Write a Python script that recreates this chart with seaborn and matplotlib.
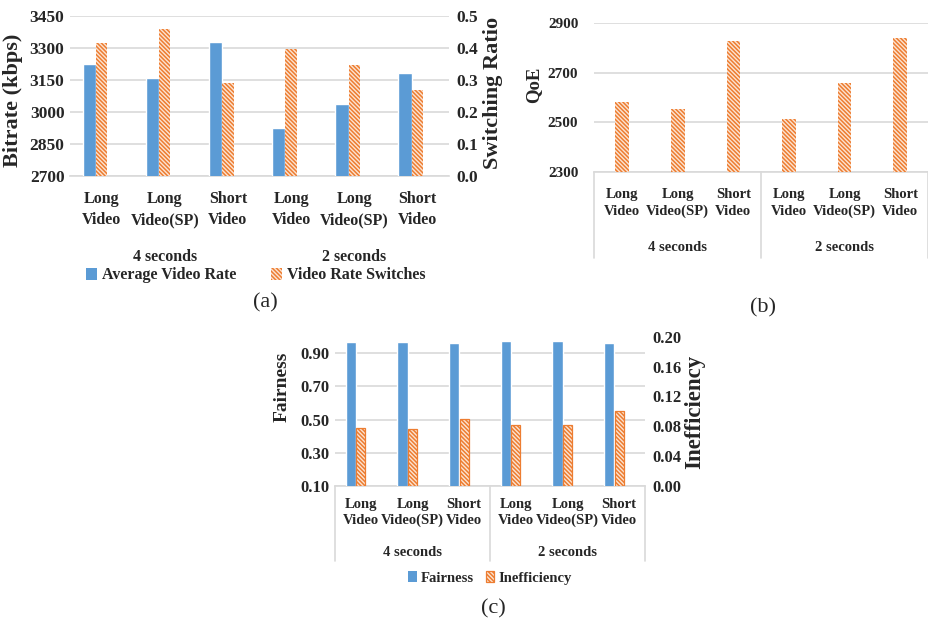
import numpy as np
import pandas as pd
import matplotlib
matplotlib.use("Agg")
import matplotlib.pyplot as plt
from matplotlib.patches import Patch
import seaborn as sns

# ---- data ----
categories = ["Long\nVideo", "Long\nVideo(SP)", "Short\nVideo",
              "Long\nVideo", "Long\nVideo(SP)", "Short\nVideo"]
groups = ["4 seconds", "2 seconds"]
avg_rate = [3224, 3159, 3327, 2923, 3039, 3181]          # kbps
switch_ratio = [0.415, 0.458, 0.290, 0.396, 0.347, 0.270]
qoe = [2582, 2552, 2828, 2514, 2659, 2838]
fairness = [0.968, 0.968, 0.960, 0.976, 0.976, 0.960]
inefficiency = [0.078, 0.076, 0.089, 0.081, 0.081, 0.101]

sns.set_theme(style="white")
plt.rcParams["font.family"] = ["Liberation Serif", "DejaVu Serif"]
plt.rcParams["hatch.linewidth"] = 1.1

BLUE = "#5B9BD5"
ORANGE = "#ED7D31"
HATCH_BG = "#FCE4D2"
HATCH = "\\\\\\\\\\\\\\\\"
GRID = "#D9D9D9"

pos = np.arange(len(categories))
df = pd.DataFrame({"pos": pos, "cat": categories, "rate": avg_rate,
                   "switch": switch_ratio, "qoe": qoe,
                   "fair": fairness, "ineff": inefficiency})

fig = plt.figure(figsize=(9.29, 6.24), dpi=100)


def style_hatched(ax, lw=0.0):
    for p in ax.patches:
        p.set_facecolor(HATCH_BG)
        p.set_edgecolor(ORANGE)
        p.set_hatch(HATCH)
        p.set_linewidth(lw)


def base_axes(ax, ylim, yticks, fmt, xfs, yfs, ypad, xpad, ls):
    ax.set_xlim(-0.5, len(categories) - 0.5)
    ax.set_ylim(*ylim)
    ax.set_yticks(yticks)
    ax.set_yticklabels([fmt.format(v) for v in yticks],
                       fontsize=yfs, fontweight="bold")
    ax.set_xticks(pos)
    ax.set_xticklabels(categories, fontsize=xfs, fontweight="bold",
                       linespacing=ls)
    ax.tick_params(axis="y", length=0, pad=ypad)
    ax.tick_params(axis="x", length=0, pad=xpad)
    ax.grid(axis="y", color=GRID, linewidth=1.2)
    ax.set_axisbelow(True)
    for s in ["top", "left", "right"]:
        ax.spines[s].set_visible(False)
    ax.spines["bottom"].set_color(GRID)
    ax.spines["bottom"].set_linewidth(1.2)
    ax.set_xlabel("")


def group_labels(ax, y, fs):
    for i, g in enumerate(groups):
        ax.text(1 + 3 * i, y, g, transform=ax.get_xaxis_transform(),
                ha="center", va="center", fontsize=fs, fontweight="bold")


def group_dividers(ax, depth):
    for x in (-0.5, 2.5, 5.5):
        ax.axvline(x, ymin=depth, ymax=0, color=GRID, linewidth=1.2,
                   clip_on=False)


# ---------------- (a) bitrate / switching ratio ----------------
axA = fig.add_axes([70 / 929, 1 - 176 / 624, 379 / 929, 160 / 624])
sns.barplot(data=df.assign(x=df["pos"] - 0.195), x="x", y="rate",
            native_scale=True, width=0.21, color=BLUE, saturation=1,
            ax=axA, zorder=3)
base_axes(axA, (2700, 3450), [2700, 2850, 3000, 3150, 3300, 3450],
          "{:.0f}", 11.5, 12.5, 4, 11, 1.4)
axA.set_ylabel("Bitrate (kbps)", fontsize=16, fontweight="bold")
axA.yaxis.set_label_coords(-0.150, 0.475)
axA.yaxis.label.set_va("center")
group_labels(axA, -0.506, 11.5)

axA2 = axA.twinx()
sns.barplot(data=df, x="pos", y="switch",
            native_scale=True, width=0.18, color=ORANGE, saturation=1,
            ax=axA2, zorder=3)
style_hatched(axA2)
axA2.set_xlim(-0.5, len(categories) - 0.5)
axA2.set_ylim(0, 0.5)
axA2.set_yticks([0, 0.1, 0.2, 0.3, 0.4, 0.5])
axA2.set_yticklabels(["{:.1f}".format(v) for v in [0, 0.1, 0.2, 0.3, 0.4, 0.5]],
                     fontsize=12.5, fontweight="bold")
axA2.tick_params(axis="y", length=0, pad=5.5)
for s in axA2.spines.values():
    s.set_visible(False)
axA2.grid(False)
axA2.set_ylabel("Switching Ratio", fontsize=16, fontweight="bold", rotation=90)
axA2.yaxis.set_label_coords(1.116, 0.519)
axA2.yaxis.label.set_va("center")
axA2.set_xlabel("")

axA.legend(handles=[Patch(facecolor=BLUE, edgecolor="none", label="Average Video Rate"),
                    Patch(facecolor=HATCH_BG, edgecolor=ORANGE, hatch=HATCH,
                          linewidth=0, label="Video Rate Switches")],
           loc="center", bbox_to_anchor=(0.49, -0.62), ncol=2, frameon=False,
           prop={"size": 11.5, "weight": "bold"}, handlelength=0.7,
           handleheight=0.8, handletextpad=0.3, columnspacing=2.2)
fig.text(265 / 929, 1 - 303 / 624, "(a)", ha="center", va="center", fontsize=16)

# ---------------- (b) QoE ----------------
axB = fig.add_axes([594.3 / 929, 1 - 172.3 / 624, 333.7 / 929, 149.6 / 624])
sns.barplot(data=df, x="pos", y="qoe", native_scale=True, width=0.245,
            color=ORANGE, saturation=1, ax=axB, zorder=3)
style_hatched(axB)
base_axes(axB, (2300, 2900), [2300, 2500, 2700, 2900], "{:.0f}",
          10.5, 11, 11.5, 11, 1.4)
axB.set_ylabel("QoE", fontsize=13.5, fontweight="bold")
axB.yaxis.set_label_coords(-0.183, 0.584)
axB.yaxis.label.set_va("center")
group_labels(axB, -0.506, 10.5)
group_dividers(axB, -0.573)
fig.text(763 / 929, 1 - 308 / 624, "(b)", ha="center", va="center", fontsize=16)

# ---------------- (c) fairness / inefficiency ----------------
axC = fig.add_axes([335 / 929, 1 - 485.7 / 624, 310 / 929, 148.9 / 624])
sns.barplot(data=df.assign(x=df["pos"] - 0.195), x="x", y="fair",
            native_scale=True, width=0.2, color=BLUE, saturation=1,
            ax=axC, zorder=3)
base_axes(axC, (0.1, 1.0), [0.1, 0.3, 0.5, 0.7, 0.9], "{:.2f}",
          10.5, 12, 3.6, 9, 1.25)
axC.set_ylabel("Fairness", fontsize=14, fontweight="bold")
axC.yaxis.set_label_coords(-0.169, 0.665)
axC.yaxis.label.set_va("center")
group_labels(axC, -0.45, 10.5)
group_dividers(axC, -0.509)

axC2 = axC.twinx()
sns.barplot(data=df, x="pos", y="ineff",
            native_scale=True, width=0.175, color=ORANGE, saturation=1,
            ax=axC2, zorder=3)
style_hatched(axC2, lw=0.9)
axC2.set_xlim(-0.5, len(categories) - 0.5)
axC2.set_ylim(0, 0.2)
rt = [0, 0.04, 0.08, 0.12, 0.16, 0.20]
axC2.set_yticks(rt)
axC2.set_yticklabels(["{:.2f}".format(v) for v in rt], fontsize=12,
                     fontweight="bold")
axC2.tick_params(axis="y", length=0, pad=5.5)
for s in axC2.spines.values():
    s.set_visible(False)
axC2.grid(False)
axC2.set_ylabel("Inefficiency", fontsize=16.5, fontweight="bold", rotation=90)
axC2.yaxis.set_label_coords(1.161, 0.497)
axC2.yaxis.label.set_va("center")
axC2.set_xlabel("")

axC.legend(handles=[Patch(facecolor=BLUE, edgecolor="none", label="Fairness"),
                    Patch(facecolor=HATCH_BG, edgecolor=ORANGE, hatch=HATCH,
                          linewidth=0.9, label="Inefficiency")],
           loc="center", bbox_to_anchor=(0.5, -0.62), ncol=2, frameon=False,
           prop={"size": 10.5, "weight": "bold"}, handlelength=0.6,
           handleheight=0.8, handletextpad=0.3, columnspacing=0.8)
fig.text(493 / 929, 1 - 609 / 624, "(c)", ha="center", va="center", fontsize=16)

fig.savefig("out.png", dpi=100)
